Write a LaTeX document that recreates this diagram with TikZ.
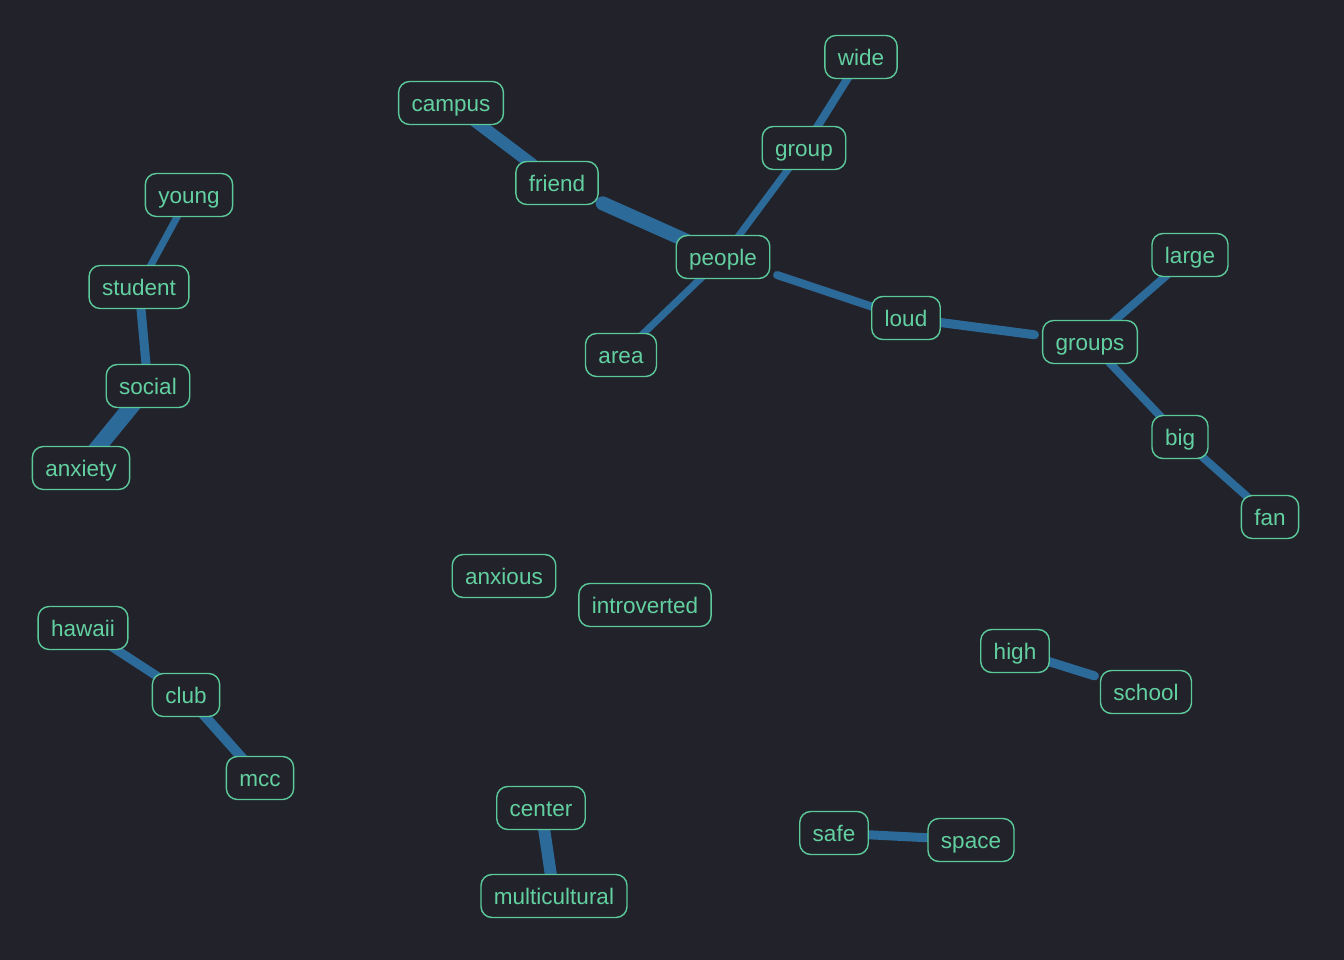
\documentclass[tikz,border=0pt]{standalone}
\usepackage{fontspec}
\setmainfont{Liberation Sans}
\usetikzlibrary{backgrounds}
\definecolor{bgc}{HTML}{22232A}
\definecolor{edgec}{HTML}{2C6A99}
\definecolor{nodec}{HTML}{5CC99A}
\definecolor{textc}{HTML}{62D0A0}
\begin{document}
\begin{tikzpicture}[x=1pt,y=-1pt,
  word/.style={draw=nodec, line width=1.4pt, fill=bgc, text=textc, rounded corners=11pt,
    inner xsep=13pt, inner ysep=0pt, minimum height=43pt, text height=19pt, text depth=1.5pt,
    font=\fontsize{22.5}{27}\selectfont},
  link/.style={draw=edgec, line cap=round, line width=#1},
  link/.default=8pt]
% nodes
\node[word] (wide) at (861,57) {wide};
\node[word] (campus) at (451,103) {campus};
\node[word] (group) at (804,148) {group};
\node[word] (friend) at (557,183) {friend};
\node[word] (young) at (189,195) {young};
\node[word] (people) at (723,257) {people};
\node[word] (large) at (1190,255) {large};
\node[word] (student) at (139,287) {student};
\node[word] (loud) at (906,318) {loud};
\node[word] (groups) at (1090,342) {groups};
\node[word] (area) at (621,355) {area};
\node[word] (social) at (148,386) {social};
\node[word] (big) at (1180,437) {big};
\node[word] (anxiety) at (81,468) {anxiety};
\node[word] (fan) at (1270,517) {fan};
\node[word] (anxious) at (504,576) {anxious};
\node[word] (introverted) at (645,605) {introverted};
\node[word] (hawaii) at (83,628) {hawaii};
\node[word] (high) at (1015,651) {high};
\node[word] (club) at (186,695) {club};
\node[word] (school) at (1146,692) {school};
\node[word] (mcc) at (260,778) {mcc};
\node[word] (center) at (541,808) {center};
\node[word] (safe) at (834,833) {safe};
\node[word] (space) at (971,840) {space};
\node[word] (multicultural) at (554,896) {multicultural};
% edges drawn behind nodes
\begin{scope}[on background layer]
\fill[bgc] (0,0) rectangle (1344,960);
\draw[link=8pt] (wide.center) -- (group.center);
\draw[link=12pt, shorten >=31pt] (campus.center) -- (friend.center);
\draw[link=7pt] (group.center) -- (people.center);
\draw[link=14pt, shorten <=50pt] (friend.center) -- (people.center);
\draw[link=7pt] (people.center) -- (area.center);
\draw[link=8pt, shorten <=57pt] (people.center) -- (loud.center);
\draw[link=9pt, shorten >=56pt] (loud.center) -- (groups.center);
\draw[link=8pt] (groups.center) -- (large.center);
\draw[link=8pt] (groups.center) -- (big.center);
\draw[link=8pt] (big.center) -- (fan.center);
\draw[link=7pt] (young.center) -- (student.center);
\draw[link=9pt] (student.center) -- (social.center);
\draw[link=16pt] (social.center) -- (anxiety.center);
\draw[link=9pt] (hawaii.center) -- (club.center);
\draw[link=10pt] (club.center) -- (mcc.center);
\draw[link=9pt, shorten >=54pt] (high.center) -- (school.center);
\draw[link=12pt] (center.center) -- (multicultural.center);
\draw[link=9pt] (safe.center) -- (space.center);
\end{scope}
\useasboundingbox (0,0) rectangle (1344,960);
\end{tikzpicture}
\end{document}
